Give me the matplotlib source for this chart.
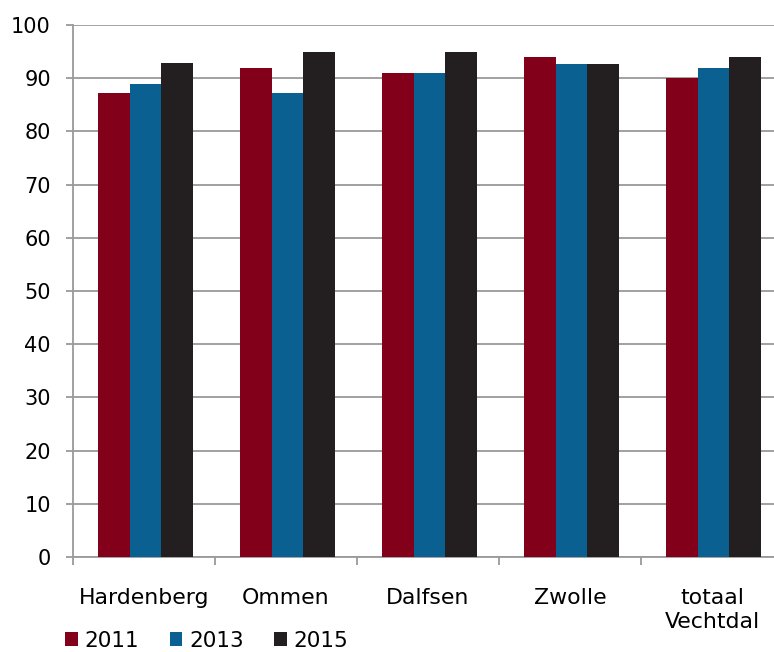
import numpy as np
import matplotlib.pyplot as plt
from matplotlib.ticker import FixedLocator

categories = ['Hardenberg', 'Ommen', 'Dalfsen', 'Zwolle', 'totaal\nVechtdal']
years = ['2011', '2013', '2015']
v2011 = [87.2, 92.0, 91.0, 93.9, 90.1]
v2013 = [89.0, 87.2, 91.0, 92.7, 92.0]
v2015 = [92.8, 95.0, 95.0, 92.7, 93.9]
colors = ['#820019', '#0A6091', '#231F20']

fig = plt.figure(figsize=(7.74, 6.52), dpi=100)
ax = fig.add_axes([73 / 774, 95 / 652, 710 / 774, 532 / 652])

x = np.arange(len(categories))
w = 0.222
for i, (vals, lbl) in enumerate(zip([v2011, v2013, v2015], years)):
    ax.bar(x + (i - 1) * w + 0.01, vals, width=w, color=colors[i], label=lbl, zorder=3,
           edgecolor='none')

ax.set_xlim(-0.5, len(categories) - 0.5)
ax.set_ylim(0, 100)
ax.set_yticks(range(0, 101, 10))
ax.yaxis.grid(True, color='#9a9a9a', lw=1.3, zorder=0)
ax.set_axisbelow(True)

ax.set_xticks(x)
ax.set_xticklabels(categories, fontsize=15.8, linespacing=1.3)
ax.xaxis.set_minor_locator(FixedLocator(np.arange(-0.5, len(categories), 1)))
ax.tick_params(axis='x', which='major', length=0, pad=22)
ax.tick_params(axis='x', which='minor', length=6, width=1.3, color='#9a9a9a')
ax.tick_params(axis='y', length=5, width=1.3, color='#9a9a9a', labelsize=15, pad=11)

for s in ['top', 'right']:
    ax.spines[s].set_visible(False)
for s in ['left', 'bottom']:
    ax.spines[s].set_color('#9a9a9a')
    ax.spines[s].set_linewidth(1.3)

fig.legend(loc='lower left', bbox_to_anchor=(46 / 774, -18 / 652), ncols=3, frameon=False,
           fontsize=15.5, handlelength=0.6, handleheight=0.6, handletextpad=0.3,
           columnspacing=1.4)

fig.savefig('out.png', dpi=100)
